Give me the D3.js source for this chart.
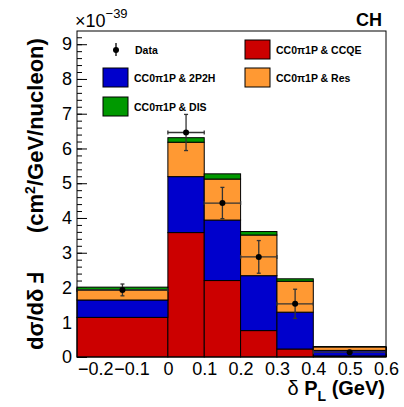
<!DOCTYPE html>
<html>
<head>
<meta charset="utf-8">
<script src="https://cdn.jsdelivr.net/npm/d3@7"></script>
<style>
  body { margin: 0; background: #fff; }
  svg text { font-family: "Liberation Sans", Arial, sans-serif; }
</style>
</head>
<body>
<div id="chart"></div>
<script>
// bin edges in delta P_L (GeV)
var binEdges = [-0.25, 0, 0.1, 0.2, 0.3, 0.4, 0.6];

// stacked MC components, units of 1e-39 cm2/GeV/nucleon
var ccqe   = [1.14, 3.58, 2.20, 0.76, 0.23, 0.03];
var twoP2H = [0.50, 1.61, 1.74, 1.58, 1.06, 0.16];
var res    = [0.29, 0.99, 1.18, 1.17, 0.89, 0.10];
var dis    = [0.08, 0.13, 0.15, 0.10, 0.07, 0.01];

// data points
var dataVals = [1.93, 6.46, 4.43, 2.88, 1.53, 0.14];
var dataErrs = [0.17, 0.52, 0.45, 0.47, 0.42, 0.03];

var xTicks = [-0.2, -0.1, 0, 0.1, 0.2, 0.3, 0.4, 0.5, 0.6];
var yTicks = [0, 1, 2, 3, 4, 5, 6, 7, 8, 9];

var components = [
  { name: "CC0\u03c01P & CCQE", vals: ccqe,   color: "#cc0000" },
  { name: "CC0\u03c01P & 2P2H", vals: twoP2H, color: "#0000cc" },
  { name: "CC0\u03c01P & Res",  vals: res,    color: "#ff9933" },
  { name: "CC0\u03c01P & DIS",  vals: dis,    color: "#009900" }
];

var svgWidth = 404, svgHeight = 407;
var frame = { left: 77, right: 386, top: 31, bottom: 357 };

var svg = d3.select("#chart").append("svg")
  .attr("width", svgWidth)
  .attr("height", svgHeight);

var x = d3.scaleLinear().domain([-0.25, 0.6]).range([frame.left, frame.right]);
var y = d3.scaleLinear().domain([0, 9.38]).range([frame.bottom, frame.top]);

// axes first (ticks sit under the histograms like in ROOT)
var fmtX = d3.format(".1~f");
var xAxis = svg.append("g")
  .attr("transform", "translate(0," + frame.bottom + ")")
  .call(d3.axisBottom(x).tickValues(xTicks).tickSize(-10).tickPadding(5).tickFormat(fmtX));
xAxis.select(".domain").remove();
xAxis.selectAll("text").style("font-size", "18px").attr("fill", "#000");

var xMinor = svg.append("g")
  .attr("transform", "translate(0," + frame.bottom + ")")
  .call(d3.axisBottom(x).tickValues(d3.range(-25, 61, 2).map(function(v) { return v / 100; }))
    .tickSize(-5).tickFormat(""));
xMinor.select(".domain").remove();

var yAxis = svg.append("g")
  .attr("transform", "translate(" + frame.left + ",0)")
  .call(d3.axisLeft(y).tickValues(yTicks).tickSize(-10).tickPadding(5).tickFormat(d3.format("d")));
yAxis.select(".domain").remove();
yAxis.selectAll("text").style("font-size", "18px").attr("fill", "#000");

var yMinor = svg.append("g")
  .attr("transform", "translate(" + frame.left + ",0)")
  .call(d3.axisLeft(y).tickValues(d3.range(0, 47).map(function(v) { return v * 0.2; }))
    .tickSize(-5).tickFormat(""));
yMinor.select(".domain").remove();

// stacked histograms
var bins = d3.range(binEdges.length - 1);
var base = bins.map(function() { return 0; });
components.forEach(function(c) {
  svg.append("g").selectAll("rect")
    .data(bins)
    .enter()
    .append("rect")
    .attr("x", function(i) { return x(binEdges[i]); })
    .attr("width", function(i) { return x(binEdges[i + 1]) - x(binEdges[i]); })
    .attr("y", function(i) { return y(base[i] + c.vals[i]); })
    .attr("height", function(i) { return y(base[i]) - y(base[i] + c.vals[i]); })
    .attr("fill", c.color)
    .attr("stroke", "#000")
    .attr("stroke-width", 1);
  bins.forEach(function(i) { base[i] += c.vals[i]; });
});

// data with errors
var errColor = "#333";
var dataG = svg.append("g");
bins.forEach(function(i) {
  var cx = x((binEdges[i] + binEdges[i + 1]) / 2);
  var cy = y(dataVals[i]);
  var x0 = x(binEdges[i]), x1 = x(binEdges[i + 1]);
  var yt = y(dataVals[i] + dataErrs[i]), yb = y(dataVals[i] - dataErrs[i]);
  dataG.append("line").attr("x1", x0).attr("x2", x1).attr("y1", cy).attr("y2", cy)
    .attr("stroke", errColor).attr("stroke-width", 1.3);
  dataG.append("line").attr("x1", x0).attr("x2", x0).attr("y1", cy - 2).attr("y2", cy + 2)
    .attr("stroke", errColor).attr("stroke-width", 1.3);
  dataG.append("line").attr("x1", x1).attr("x2", x1).attr("y1", cy - 2).attr("y2", cy + 2)
    .attr("stroke", errColor).attr("stroke-width", 1.3);
  dataG.append("line").attr("x1", cx).attr("x2", cx).attr("y1", yt).attr("y2", yb)
    .attr("stroke", errColor).attr("stroke-width", 1.3);
  dataG.append("line").attr("x1", cx - 2).attr("x2", cx + 2).attr("y1", yt).attr("y2", yt)
    .attr("stroke", errColor).attr("stroke-width", 1.3);
  dataG.append("line").attr("x1", cx - 2).attr("x2", cx + 2).attr("y1", yb).attr("y2", yb)
    .attr("stroke", errColor).attr("stroke-width", 1.3);
  dataG.append("circle").attr("cx", cx).attr("cy", cy).attr("r", 3).attr("fill", "#000");
});

// frame
svg.append("rect")
  .attr("x", frame.left).attr("y", frame.top)
  .attr("width", frame.right - frame.left).attr("height", frame.bottom - frame.top)
  .attr("fill", "none").attr("stroke", "#000").attr("stroke-width", 1);

// legend
var leg = svg.append("g").style("font-size", "10.5px").style("font-weight", "bold");
leg.append("line").attr("x1", 116).attr("x2", 116).attr("y1", 43).attr("y2", 56)
  .attr("stroke", "#000").attr("stroke-width", 1.3);
leg.append("circle").attr("cx", 116).attr("cy", 50).attr("r", 3).attr("fill", "#000");
leg.append("text").attr("x", 135).attr("y", 54).text("Data");

var legItems = [
  { c: components[0], bx: 245, by: 40 },
  { c: components[1], bx: 103, by: 68 },
  { c: components[2], bx: 245, by: 68 },
  { c: components[3], bx: 103, by: 97 }
];
legItems.forEach(function(d) {
  leg.append("rect").attr("x", d.bx).attr("y", d.by).attr("width", 25).attr("height", 19)
    .attr("fill", d.c.color).attr("stroke", "#000").attr("stroke-width", 1);
  leg.append("text").attr("x", d.bx + 31).attr("y", d.by + 14).text(d.c.name);
});

// exponent label
var expo = svg.append("text").attr("x", 75).attr("y", 27).style("font-size", "18px");
expo.append("tspan").text("\u00d710");
expo.append("tspan").attr("dy", -9).style("font-size", "13px").text("\u221239");

// CH label
svg.append("text").attr("x", 382).attr("y", 26).attr("text-anchor", "end")
  .style("font-size", "18px").style("font-weight", "bold").text("CH");

// x title
var xt = svg.append("text").attr("x", 385).attr("y", 395).attr("text-anchor", "end")
  .style("font-size", "20px").style("font-weight", "bold");
xt.append("tspan").style("font-weight", "normal").text("\u03b4 ");
xt.append("tspan").text("P");
xt.append("tspan").attr("dy", 6).style("font-size", "14px").text("L");
xt.append("tspan").attr("dy", -6).text(" (GeV)");

// y title
svg.append("text")
  .attr("transform", "translate(43,350) rotate(-90)")
  .style("font-size", "22px").style("font-weight", "bold")
  .text("d\u03c3/d\u03b4 \u2132");
var yt2 = svg.append("text")
  .attr("transform", "translate(43,233) rotate(-90)")
  .style("font-size", "22px").style("font-weight", "bold");
yt2.append("tspan").text("(cm");
yt2.append("tspan").attr("dy", -8).style("font-size", "14px").text("2");
yt2.append("tspan").attr("dy", 8).text("/GeV/nucleon)");
</script>
</body>
</html>
